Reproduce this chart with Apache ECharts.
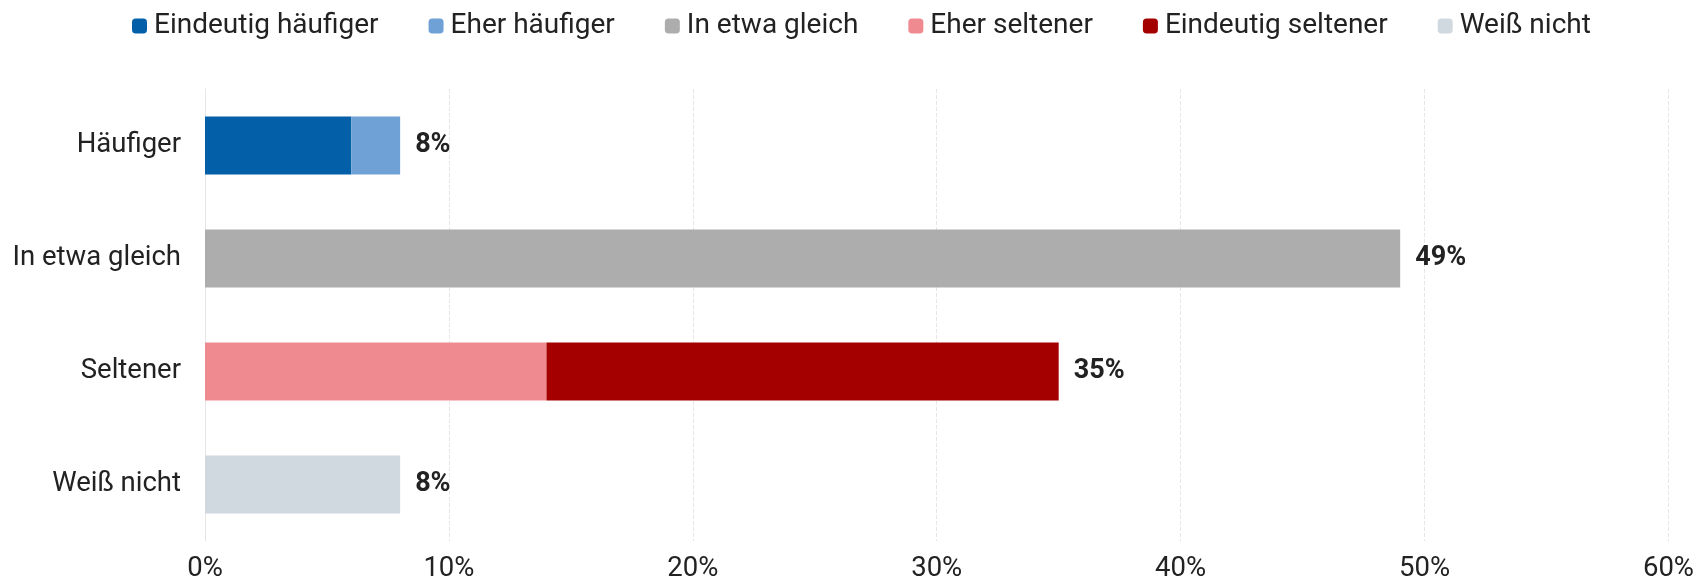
<!DOCTYPE html>
<html>
<head>
<meta charset="utf-8">
<script src="https://cdn.jsdelivr.net/npm/echarts@6/dist/echarts.min.js"></script>
<style>
html,body{margin:0;padding:0;background:#fff;}
#chart{width:1697px;height:583px;}
</style>
</head>
<body>
<div id="chart"></div>
<script>
const categories = ['Häufiger', 'In etwa gleich', 'Seltener', 'Weiß nicht'];
const seriesNames = ['Eindeutig häufiger', 'Eher häufiger', 'In etwa gleich', 'Eher seltener', 'Eindeutig seltener', 'Weiß nicht'];
const eindeutigHaeufiger = [6, 0, 0, 0];
const eherHaeufiger = [2, 0, 0, 0];
const inEtwaGleich = [0, 49, 0, 0];
const eherSeltener = [0, 0, 14, 0];
const eindeutigSeltener = [0, 0, 21, 0];
const weissNicht = [0, 0, 0, 8];
const colors = ['#035fa8', '#6fa1d6', '#adadad', '#f08a91', '#a50000', '#d0d8e0'];
const xTicks = { min: 0, max: 60, interval: 10 };

const allValues = [eindeutigHaeufiger, eherHaeufiger, inEtwaGleich, eherSeltener, eindeutigSeltener, weissNicht];
const totals = categories.map((c, j) => allValues.reduce((s, arr) => s + arr[j], 0));
const lastIdx = categories.map((c, j) => {
  let last = -1;
  allValues.forEach((arr, i) => { if (arr[j] > 0) last = i; });
  return last;
});

const FONT = 'Roboto';
const FS = 27.5;

const series = allValues.map((arr, i) => ({
  name: seriesNames[i],
  type: 'bar',
  stack: 'total',
  barWidth: 58,
  itemStyle: { color: colors[i] },
  emphasis: { disabled: true },
  data: arr.map((v, j) => {
    const item = { value: v === 0 ? null : v };
    if (lastIdx[j] === i) {
      item.label = {
        show: true,
        position: 'right',
        distance: 15,
        formatter: totals[j] + '%',
        fontFamily: FONT,
        fontSize: 27,
        fontWeight: 'bold',
        color: '#222'
      };
    }
    return item;
  })
}));

const chart = echarts.init(document.getElementById('chart'), null, { renderer: 'canvas' });
chart.setOption({
  animation: false,
  textStyle: { fontFamily: FONT },
  legend: {
    top: 7,
    left: 127,
    itemWidth: 15,
    itemHeight: 15,
    itemGap: 50,
    icon: 'roundRect',
    textStyle: { fontFamily: FONT, fontSize: 28, color: '#222', padding: [0, 0, 0, 2] },
    data: seriesNames
  },
  grid: { left: 205, right: 28, top: 89, bottom: 37, containLabel: false },
  xAxis: {
    type: 'value',
    min: xTicks.min,
    max: xTicks.max,
    interval: xTicks.interval,
    axisLine: { show: false },
    axisTick: { show: false },
    axisLabel: { formatter: '{value}%', fontFamily: FONT, fontSize: FS, color: '#222', margin: 14 },
    splitLine: { show: true, lineStyle: { color: '#e6e6e6', type: 'dashed', width: 1 } }
  },
  yAxis: {
    type: 'category',
    data: categories,
    inverse: true,
    axisLine: { show: true, lineStyle: { color: '#e6e6e6' } },
    axisTick: { show: false },
    axisLabel: { fontFamily: FONT, fontSize: FS, color: '#222', margin: 24 }
  },
  series: series
});
</script>
</body>
</html>
